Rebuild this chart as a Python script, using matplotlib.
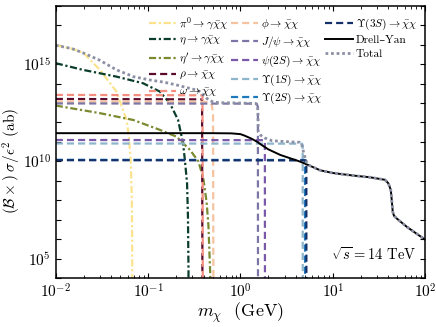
import numpy as np
import matplotlib
matplotlib.use("Agg")
import matplotlib.pyplot as plt
from matplotlib.lines import Line2D
from matplotlib.ticker import LogLocator, NullFormatter, FixedLocator, FixedFormatter

plt.rcParams['mathtext.fontset'] = 'cm'
plt.rcParams['font.family'] = ['cmr10', 'DejaVu Serif']
plt.rcParams['axes.formatter.use_mathtext'] = True

# ---- data (m_chi in GeV, log10 of sigma in ab) ----
pi0_m = [0.01, 0.015, 0.02, 0.03, 0.0454, 0.0584, 0.062, 0.065, 0.0665, 0.0672, 0.0675]
pi0_log = [15.97, 15.80, 15.57, 14.71, 13.59, 12.13, 11.27, 9.8, 8.2, 6.0, 3.0]

eta_m = [0.01, 0.0196, 0.0454, 0.088, 0.134, 0.172, 0.211, 0.239, 0.25, 0.264, 0.27, 0.2735, 0.274]
eta_log = [15.05, 14.71, 14.36, 14.02, 13.59, 12.99, 12.13, 10.93, 10.07, 8.88, 7.16, 4.5, 3.0]

etap_m = [0.01, 0.030, 0.0689, 0.134, 0.203, 0.284, 0.35, 0.395, 0.43, 0.45, 0.468, 0.476, 0.479]
etap_log = [12.87, 12.48, 12.13, 11.62, 11.27, 10.59, 10.0, 9.15, 7.9, 6.7, 4.5, 3.5, 3.0]

rho_m = [0.01, 0.384, 0.3875]
rho_log = [13.21, 13.19, 3.0]

omega_m = [0.01, 0.388, 0.3913]
omega_log = [13.42, 13.40, 3.0]

phi_m = [0.01, 0.45, 0.49, 0.505, 0.5095]
phi_log = [13.08, 13.06, 12.9, 12.4, 3.0]

jpsi_m = [0.01, 1.50, 1.545, 1.5485]
jpsi_log = [12.98, 12.97, 12.8, 3.0]

psi2s_m = [0.01, 1.80, 1.838, 1.843]
psi2s_log = [11.10, 11.09, 10.95, 3.0]

ups1s_m = [0.01, 4.65, 4.72, 4.73]
ups1s_log = [10.92, 10.91, 10.8, 3.0]

ups2s_m = [0.01, 4.95, 5.005, 5.011]
ups2s_log = [10.08, 10.07, 9.97, 3.0]

ups3s_m = [0.01, 5.12, 5.172, 5.177]
ups3s_log = [10.06, 10.05, 9.95, 3.0]

dy_m = [0.01, 0.5, 0.8, 1.0, 1.1, 1.3, 1.5, 1.75, 2.0, 2.7, 3.5, 4.4, 5.5, 7.3, 10,
        16.6, 25.3, 36.8, 40, 42.5, 43.5, 44.6, 46, 49, 63, 100]
dy_log = [11.45, 11.45, 11.44, 11.40, 11.33, 11.18, 11.02, 10.8, 10.62, 10.33, 10.15, 9.99,
          9.80, 9.54, 9.40, 9.27, 9.18, 9.05, 8.87, 8.53, 8.02, 7.41, 7.2, 7.07, 6.64, 5.97]

tot_m = [0.01, 0.015, 0.02, 0.03, 0.0454, 0.06, 0.0689, 0.104, 0.15, 0.203, 0.25, 0.3, 0.33,
         0.36, 0.39, 0.43, 0.47, 0.51, 0.6, 1.0, 1.45, 1.53, 1.548, 1.56, 1.65, 1.84, 2.2,
         3.5, 4.4, 4.6, 4.75, 5.0, 5.2, 5.5, 7.3, 10, 16.6, 25.3, 36.8, 40, 42.5, 43.5,
         44.6, 46, 49, 63, 100]
tot_log = [15.97, 15.80, 15.57, 15.2, 14.71, 14.48, 14.36, 14.19, 14.07, 13.93, 13.82, 13.72,
           13.68, 13.6, 13.45, 13.25, 13.12, 13.05, 13.02, 13.0, 12.98, 12.9, 12.5, 11.5,
           11.35, 11.2, 11.06, 11.0, 10.98, 10.9, 10.6, 10.2, 9.95, 9.80, 9.54, 9.40, 9.27,
           9.18, 9.05, 8.87, 8.53, 8.02, 7.41, 7.2, 7.07, 6.64, 5.97]

labels = [r'$\pi^0\to\gamma\bar{\chi}\chi$', r'$\eta\to\gamma\bar{\chi}\chi$',
          r"$\eta'\to\gamma\bar{\chi}\chi$", r'$\rho\to\bar{\chi}\chi$',
          r'$\omega\to\bar{\chi}\chi$', r'$\phi\to\bar{\chi}\chi$',
          r'$J/\psi\to\bar{\chi}\chi$', r'$\psi(2S)\to\bar{\chi}\chi$',
          r'$\Upsilon(1S)\to\bar{\chi}\chi$', r'$\Upsilon(2S)\to\bar{\chi}\chi$',
          r'$\Upsilon(3S)\to\bar{\chi}\chi$', 'Drell–Yan', 'Total']

series = [(pi0_m, pi0_log), (eta_m, eta_log), (etap_m, etap_log), (rho_m, rho_log),
          (omega_m, omega_log), (phi_m, phi_log), (jpsi_m, jpsi_log), (psi2s_m, psi2s_log),
          (ups1s_m, ups1s_log), (ups2s_m, ups2s_log), (ups3s_m, ups3s_log),
          (dy_m, dy_log), (tot_m, tot_log)]

colors = ['#fbe38e', '#0b3d2b', '#7a8a30', '#5a0b2c', '#f48f80', '#f6c3a0',
          '#7c76a6', '#7b59a9', '#8db6cc', '#1c79bd', '#14306a', 'black', '#8c90a4']
dashdot = (0, (3.2, 1.2, 1.0, 1.2))
dash = (0, (3.2, 1.8))
styles = [dashdot, dashdot, dashdot] + [dash] * 8 + ['-', (0, (1.0, 1.0))]
widths = [1.6] * 11 + [1.4, 2.0]

fig = plt.figure(figsize=(4.36, 3.27), dpi=100)
ax = fig.add_axes([0.128, 0.150, 0.847, 0.832])

handles = []
for (m, lg), c, ls, lw, lab in zip(series, colors, styles, widths, labels):
    h, = ax.plot(m, 10.0 ** np.array(lg), color=c, ls=ls, lw=lw, label=lab)
    handles.append(h)

ax.set_xscale('log')
ax.set_yscale('log')
ax.set_xlim(1e-2, 1e2)
ax.set_ylim(1e4, 1e18)

ytick_vals = [10.0 ** k for k in range(4, 19)]
ax.yaxis.set_major_locator(FixedLocator(ytick_vals))
ax.yaxis.set_minor_locator(plt.NullLocator())
ax.yaxis.set_major_formatter(FixedFormatter(
    [r'$10^{%d}$' % k if k in (5, 10, 15) else '' for k in range(4, 19)]))
ax.xaxis.set_major_locator(LogLocator(base=10, numticks=10))
ax.xaxis.set_minor_locator(LogLocator(base=10, subs=np.arange(2, 10), numticks=20))
ax.xaxis.set_minor_formatter(NullFormatter())

ax.tick_params(which='both', direction='in', top=True, right=True, labelsize=11)
ax.tick_params(which='major', length=3.5, width=0.8)
ax.tick_params(which='minor', length=2, width=0.6)
for s in ax.spines.values():
    s.set_linewidth(1.1)

ax.set_xlabel(r'$m_\chi$  (GeV)', fontsize=13, labelpad=0)
ax.set_ylabel(r'$(\mathcal{B}\times)\;\sigma/\epsilon^2$ (ab)', fontsize=11)
ax.yaxis.set_label_coords(-0.09, 0.43)

blank = Line2D([], [], color='none')
leg_handles = handles + [blank, blank]
leg_labels = labels + ['', '']
ax.legend(leg_handles, leg_labels, ncol=3, loc='upper left', bbox_to_anchor=(0.245, 0.975),
          frameon=False, fontsize=8.2, handlelength=2.4, handletextpad=0.3,
          columnspacing=0.2, labelspacing=0.3, borderaxespad=0.0, borderpad=0.2)

ax.text(0.975, 0.085, r'$\sqrt{s}=14$ TeV', transform=ax.transAxes, ha='right',
        va='center', fontsize=10.5)

fig.savefig('out.png', dpi=100)
